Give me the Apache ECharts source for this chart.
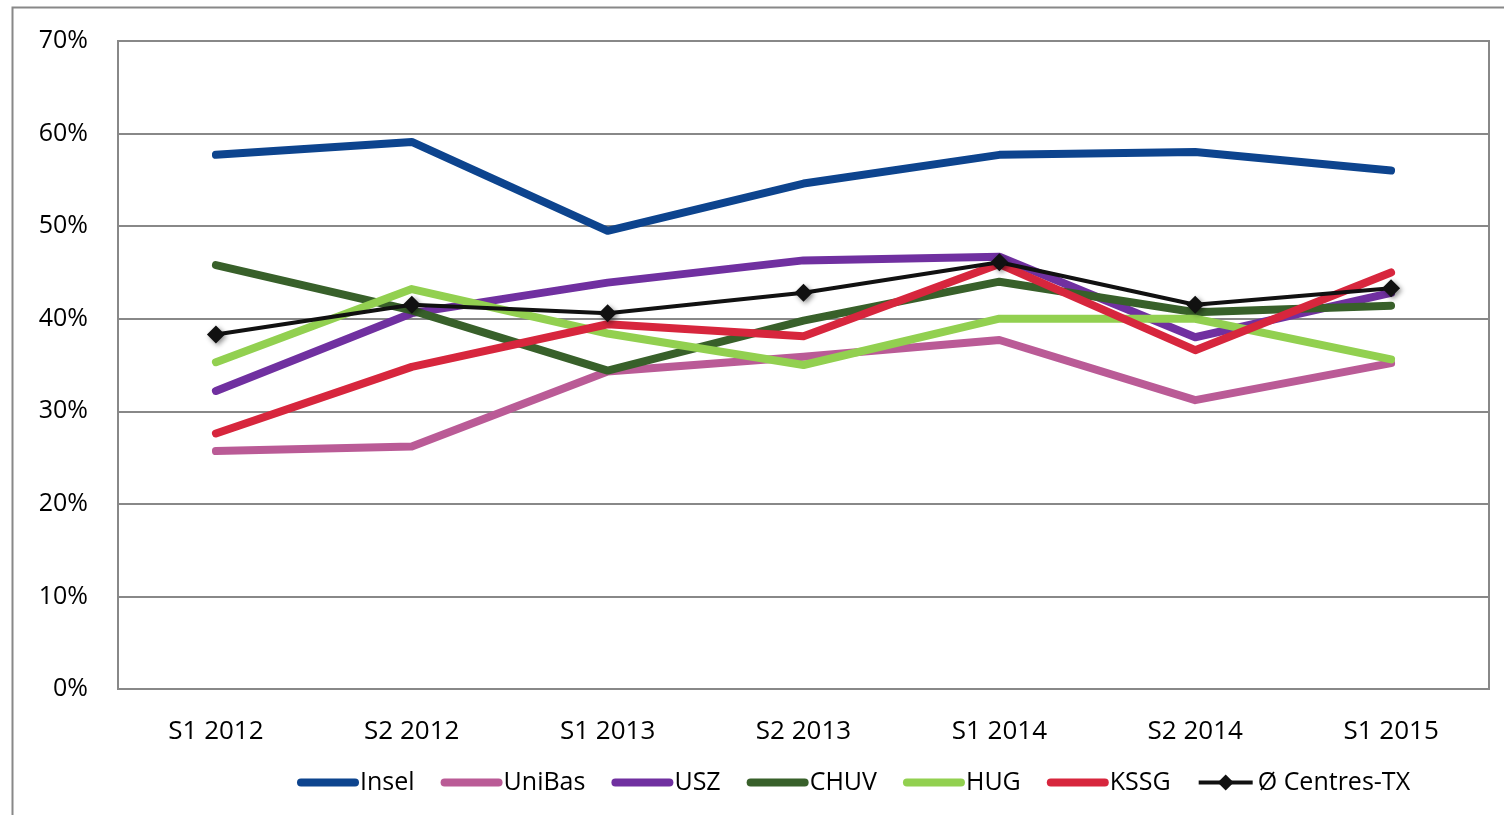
<!DOCTYPE html>
<html>
<head>
<meta charset="utf-8">
<script src="https://cdn.jsdelivr.net/npm/echarts@6/dist/echarts.min.js"></script>
<style>
  html, body { margin: 0; padding: 0; background: #fff; }
  #chart { width: 1504px; height: 815px; }
</style>
</head>
<body>
<div id="chart"></div>
<script>
// categories (semesters)
var periods = ['S1 2012', 'S2 2012', 'S1 2013', 'S2 2013', 'S1 2014', 'S2 2014', 'S1 2015'];

// values in %
var insel  = [57.7, 59.1, 49.5, 54.6, 57.7, 58.0, 56.0];
var unibas = [25.7, 26.2, 34.3, 35.9, 37.7, 31.2, 35.2];
var usz    = [32.2, 40.6, 43.9, 46.3, 46.7, 38.0, 42.8];
var chuv   = [45.8, 40.9, 34.4, 39.8, 44.0, 40.7, 41.4];
var hug    = [35.3, 43.2, 38.4, 35.0, 40.0, 40.0, 35.6];
var kssg   = [27.6, 34.8, 39.4, 38.1, 45.9, 36.6, 45.0];
var avgTx  = [38.3, 41.5, 40.6, 42.8, 46.1, 41.5, 43.3];

var names = ['Insel', 'UniBas', 'USZ', 'CHUV', 'HUG', 'KSSG'];
var colors = ['#0D448E', '#BA5B96', '#7030A0', '#38602A', '#92D050', '#D7263D'];
var avgName = 'Ø Centres-TX';

var fontName = '"Open Sans", sans-serif';

function thickLine(name, color, values) {
  return {
    name: name,
    type: 'line',
    data: values,
    symbol: 'none',
    lineStyle: { color: color, width: 8, cap: 'round', join: 'round' },
    itemStyle: { color: color },
    emphasis: { disabled: true }
  };
}

// legend entries: thick rounded line for the centres, line + diamond for the average
var legendData = names.map(function (n) {
  return { name: n, itemStyle: { opacity: 0 }, lineStyle: { width: 8, cap: 'round' } };
});
legendData.push({ name: avgName, lineStyle: { width: 4 } });

var chart = echarts.init(document.getElementById('chart'));

chart.setOption({
  animation: false,
  backgroundColor: '#fff',
  graphic: [{
    type: 'rect',
    left: 10, top: 5,
    shape: { width: 1600, height: 900 },
    style: { fill: 'none', stroke: '#888', lineWidth: 2 },
    silent: true
  }],
  grid: {
    left: 118, right: 15, top: 41, bottom: 126,
    show: true,
    borderColor: '#888',
    borderWidth: 2
  },
  legend: {
    top: 765,
    left: 292,
    itemWidth: 54,
    itemHeight: 20,
    itemGap: 26,
    textStyle: { fontFamily: fontName, fontSize: 25, color: '#000', padding: [0, 0, 0, 0] },
    data: legendData
  },
  xAxis: {
    type: 'category',
    data: periods,
    boundaryGap: true,
    axisLine: { show: false },
    axisTick: { show: false },
    axisLabel: { fontFamily: fontName, fontSize: 26, color: '#000', margin: 30 }
  },
  yAxis: {
    type: 'value',
    min: 0, max: 70, interval: 10,
    axisLine: { show: false },
    axisTick: { show: false },
    axisLabel: { fontFamily: fontName, fontSize: 25, color: '#000', margin: 30, formatter: '{value}%' },
    splitLine: { lineStyle: { color: '#888', width: 2 } }
  },
  series: [
    thickLine(names[0], colors[0], insel),
    thickLine(names[1], colors[1], unibas),
    thickLine(names[2], colors[2], usz),
    thickLine(names[3], colors[3], chuv),
    thickLine(names[4], colors[4], hug),
    thickLine(names[5], colors[5], kssg),
    {
      name: avgName,
      type: 'line',
      data: avgTx,
      symbol: 'diamond',
      symbolSize: 18,
      lineStyle: { color: '#111', width: 4 },
      itemStyle: { color: '#111', shadowColor: 'rgba(0,0,0,0.45)', shadowBlur: 5, shadowOffsetX: 2, shadowOffsetY: 2 },
      emphasis: { disabled: true }
    }
  ]
});
</script>
</body>
</html>
